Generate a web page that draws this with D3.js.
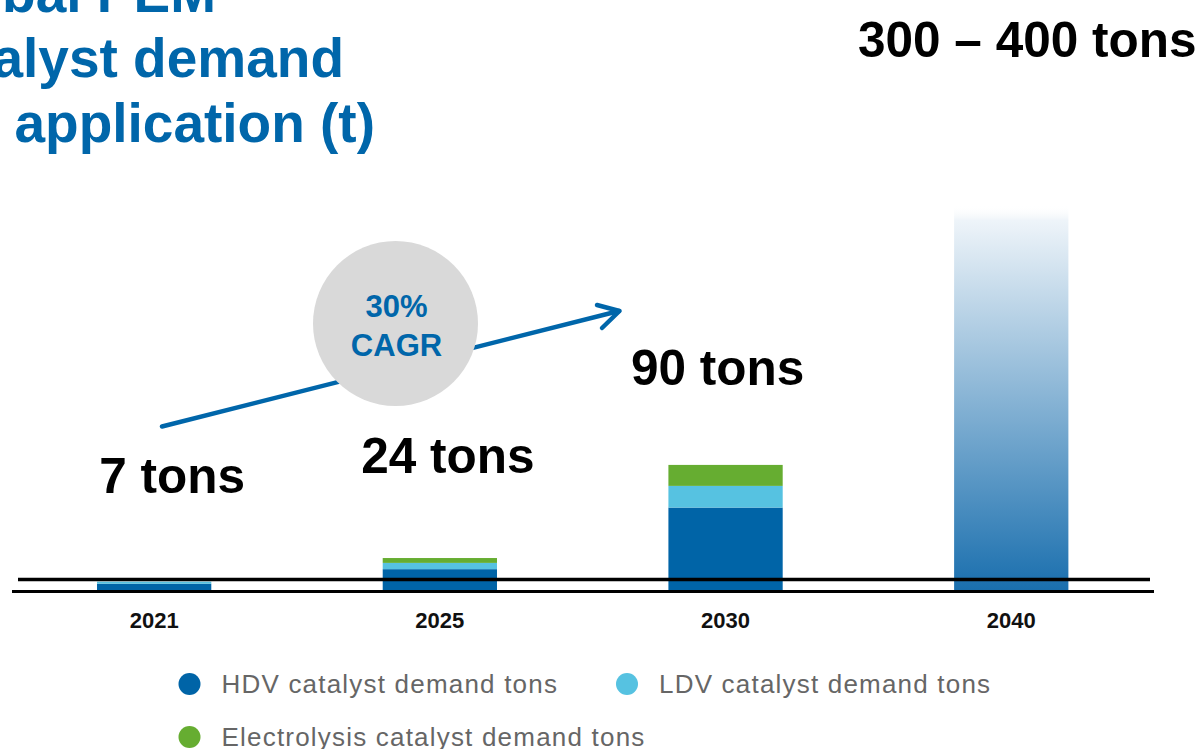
<!DOCTYPE html>
<html>
<head>
<meta charset="utf-8">
<script src="https://cdn.jsdelivr.net/npm/d3@7"></script>
<style>
  html, body { margin: 0; padding: 0; background: #fff; }
  svg { display: block; font-family: Arial, 'Liberation Sans', sans-serif; }
</style>
</head>
<body>
<svg id="chart" width="1204" height="749" viewBox="0 0 1204 749"></svg>
<script>
// values (tons)
const years = ['2021', '2025', '2030', '2040']
const stackedYears = ['2021', '2025', '2030']
const hdvTons = [4.5, 15, 59.3]
const ldvTons = [1.5, 4.5, 15.6]
const electrolysisTons = [0, 3.5, 15.1]
// 2040 is only a faded projection bar, height estimated from the picture
const projection2040 = 277
const totalLabels = ['7 tons', '24 tons', '90 tons', '300 – 400 tons']
const labelTotals = [6, 23, 90, projection2040]
const seriesNames = ['HDV catalyst demand tons', 'LDV catalyst demand tons', 'Electrolysis catalyst demand tons']
const titleLines = ['Global PEM', 'catalyst demand', 'by application (t)']
const cagrLines = ['30%', 'CAGR']

const colors = {
  hdv: '#0064a7',
  ldv: '#56c2e1',
  elec: '#66ad31',
  blue: '#0066aa',
  grey: '#d9d9d9'
}

function whenDocumentLoaded (action) {
  if (document.readyState === 'loading') {
    document.addEventListener('DOMContentLoaded', action)
  } else {
    action()
  }
}

whenDocumentLoaded(() => {
  const svg = d3.select('#chart')

  const x = d3.scaleBand()
    .domain(years)
    .range([11.3, 1154.1])
    .paddingInner(0.6)
    .paddingOuter(0.3)

  const y = d3.scaleLinear()
    .domain([0, projection2040])
    .range([590, 205])

  // title, cut off on the left like the slide
  const titleEnds = [216, 344, 375]
  svg.append('g')
    .selectAll('text')
    .data(titleLines)
    .enter()
    .append('text')
    .attr('x', (d, i) => titleEnds[i])
    .attr('y', (d, i) => 12 + i * 65)
    .attr('text-anchor', 'end')
    .attr('font-size', '55px')
    .attr('font-weight', 'bold')
    .attr('fill', colors.blue)
    .text(d => d)

  // stacked bars
  const table = stackedYears.map((d, i) => ({
    year: d,
    hdv: hdvTons[i],
    ldv: ldvTons[i],
    elec: electrolysisTons[i]
  }))
  const stack = d3.stack().keys(['hdv', 'ldv', 'elec'])(table)

  svg.append('g')
    .selectAll('g')
    .data(stack)
    .enter()
    .append('g')
    .attr('fill', d => colors[d.key])
    .selectAll('rect')
    .data(d => d)
    .enter()
    .append('rect')
    .attr('x', d => x(d.data.year))
    .attr('width', x.bandwidth())
    .attr('y', d => y(d[1]))
    .attr('height', d => y(d[0]) - y(d[1]))

  // faded 2040 bar
  const grad = svg.append('defs')
    .append('linearGradient')
    .attr('id', 'fade')
    .attr('x1', 0).attr('y1', 0)
    .attr('x2', 0).attr('y2', 1)
  grad.append('stop').attr('offset', 0).attr('stop-color', '#ffffff').attr('stop-opacity', 0)
  grad.append('stop').attr('offset', 0.04).attr('stop-color', '#eef4f9')
  grad.append('stop').attr('offset', 1).attr('stop-color', '#1a6fae')

  svg.append('rect')
    .attr('x', x('2040'))
    .attr('width', x.bandwidth())
    .attr('y', y(projection2040))
    .attr('height', y(0) - y(projection2040))
    .attr('fill', 'url(#fade)')

  // double base line
  svg.append('line')
    .attr('x1', 18).attr('x2', 1150)
    .attr('y1', y(0) - 10.5).attr('y2', y(0) - 10.5)
    .attr('stroke', '#000').attr('stroke-width', 3.5)
  svg.append('line')
    .attr('x1', 12).attr('x2', 1154)
    .attr('y1', y(0) + 1.5).attr('y2', y(0) + 1.5)
    .attr('stroke', '#000').attr('stroke-width', 3)

  // year labels
  svg.append('g')
    .selectAll('text')
    .data(years)
    .enter()
    .append('text')
    .attr('x', d => x(d) + x.bandwidth() / 2)
    .attr('y', y(0) + 38)
    .attr('text-anchor', 'middle')
    .attr('font-size', '22px')
    .attr('font-weight', 'bold')
    .attr('fill', '#111')
    .text(d => d)

  // total labels (free floating, like the slide)
  const labelShift = [
    { dx: 18, dy: 89 },
    { dx: 8, dy: 85 },
    { dx: -8, dy: 80 },
    { dx: 16, dy: 148 }
  ]
  svg.append('g')
    .selectAll('text')
    .data(totalLabels)
    .enter()
    .append('text')
    .attr('x', (d, i) => x(years[i]) + x.bandwidth() / 2 + labelShift[i].dx)
    .attr('y', (d, i) => y(labelTotals[i]) - labelShift[i].dy)
    .attr('text-anchor', 'middle')
    .attr('font-size', '49.5px')
    .attr('font-weight', 'bold')
    .attr('fill', '#000')
    .text(d => d)

  // CAGR arrow
  const arrow = svg.append('g')
    .attr('stroke', colors.blue)
    .attr('stroke-width', 4.5)
    .attr('stroke-linecap', 'round')
    .attr('fill', 'none')
  arrow.append('line')
    .attr('x1', 162).attr('y1', 426.5)
    .attr('x2', 619).attr('y2', 311)
  arrow.append('polyline')
    .attr('points', '597,305 619.5,311 602,328')
    .attr('stroke-linejoin', 'round')

  svg.append('circle')
    .attr('cx', 395.5)
    .attr('cy', 323.5)
    .attr('r', 82.5)
    .attr('fill', colors.grey)

  svg.append('g')
    .selectAll('text')
    .data(cagrLines)
    .enter()
    .append('text')
    .attr('x', 396.5)
    .attr('y', (d, i) => 317 + i * 38.5)
    .attr('text-anchor', 'middle')
    .attr('font-size', '31px')
    .attr('font-weight', 'bold')
    .attr('fill', colors.blue)
    .text(d => d)

  // legend
  const legendPos = [
    { x: 189.5, y: 684 },
    { x: 627, y: 684 },
    { x: 189.5, y: 737 }
  ]
  const legendColors = [colors.hdv, colors.ldv, colors.elec]
  const legend = svg.append('g')
    .selectAll('g')
    .data(seriesNames)
    .enter()
    .append('g')
    .attr('transform', (d, i) => `translate(${legendPos[i].x},${legendPos[i].y})`)
  legend.append('circle')
    .attr('r', 11)
    .attr('fill', (d, i) => legendColors[i])
  legend.append('text')
    .attr('x', 32)
    .attr('y', 9.3)
    .attr('font-size', '26px')
    .attr('letter-spacing', '1.2px')
    .attr('fill', '#666')
    .text(d => d)
})
</script>
</body>
</html>
